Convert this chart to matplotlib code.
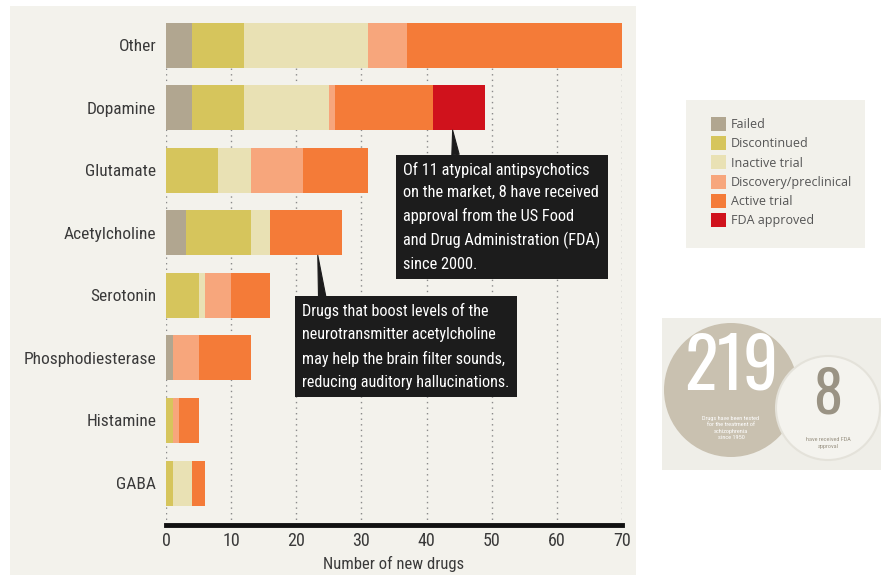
import matplotlib.pyplot as plt
from matplotlib.patches import Rectangle, Circle
import numpy as np

# data
targets = ['Other', 'Dopamine', 'Glutamate', 'Acetylcholine', 'Serotonin',
           'Phosphodiesterase', 'Histamine', 'GABA']
stages = ['Failed', 'Discontinued', 'Inactive trial', 'Discovery/preclinical',
          'Active trial', 'FDA approved']
colors = ['#b1a690', '#d6c55c', '#e9e1b4', '#f7a67c', '#f47b38', '#d0121c']

failed = [4, 4, 0, 3, 0, 1, 0, 0]
discontinued = [8, 8, 8, 10, 5, 0, 1, 1]
inactive = [19, 13, 5, 3, 1, 0, 0, 3]
discovery = [6, 1, 8, 0, 4, 4, 1, 0]
active = [33, 15, 10, 11, 6, 8, 3, 2]
fda = [0, 8, 0, 0, 0, 0, 0, 0]

x_ticks = [0, 10, 20, 30, 40, 50, 60, 70]
total_tested = 219
total_approved = 8

cond = ['Roboto Condensed', 'DejaVu Sans']
big = ['Oswald', 'DejaVu Sans']
plt.rcParams['font.family'] = cond

W, H = 881, 575
fig = plt.figure(figsize=(W / 100, H / 100), dpi=100)
fig.patch.set_facecolor('white')

# background layer in pixel coords
bg = fig.add_axes([0, 0, 1, 1], zorder=-1)
bg.set_xlim(0, W)
bg.set_ylim(H, 0)
bg.axis('off')
bg.add_patch(Rectangle((10, 6), 626, 575, color='#f3f2ec', lw=0))
bg.add_patch(Rectangle((686, 100), 179, 148, color='#f2f1eb', lw=0))
bg.add_patch(Rectangle((662, 318), 219, 152, color='#efeee8', lw=0))
bg.add_patch(Circle((731, 390), 67, color='#c9c1b0', lw=0))
bg.add_patch(Circle((828, 408), 52, fc='#f4f3ee', ec='#e4e2da', lw=1.5))
bg.text(731, 368, str(total_tested), color='white', fontsize=50, family=big,
        weight='light', ha='center', va='center')
bg.text(731, 428, 'Drugs have been tested\nfor the treatment of\nschizophrenia\nsince 1950',
        color='white', fontsize=4.5, ha='center', va='center', linespacing=1.3)
bg.text(828, 396, str(total_approved), color='#9a9384', fontsize=42, family=big,
        weight='light', ha='center', va='center')
bg.text(828, 443, 'have received FDA\napproval', color='#9a9384', fontsize=4.5,
        ha='center', va='center', linespacing=1.3)

# main chart
ax = fig.add_axes([166 / W, 1 - 525 / H, (622 - 166) / W, (525 - 20) / H])
ax.set_facecolor('none')

y = np.arange(len(targets))
series = [failed, discontinued, inactive, discovery, active, fda]
left = np.zeros(len(targets))
handles = []
for vals, name, c in zip(series, stages, colors):
    vals = np.array(vals, dtype=float)
    b = ax.barh(y, vals, left=left, height=0.72, color=c, lw=0, label=name)
    handles.append(b)
    left += vals

ax.set_xlim(0, 70)
ax.set_ylim(7.67, -0.40)
ax.set_yticks(y)
ax.set_yticklabels(targets, fontsize=12.5, color='#3a3a3a')
ax.set_xticks(x_ticks)
ax.set_xticklabels([str(t) for t in x_ticks], fontsize=13, color='#3a3a3a')
ax.tick_params(length=0)
ax.tick_params(axis='y', pad=7)
ax.tick_params(axis='x', pad=5)
for s in ['top', 'right', 'left']:
    ax.spines[s].set_visible(False)
ax.spines['bottom'].set_linewidth(3.5)
ax.spines['bottom'].set_color('#111111')
ax.set_axisbelow(True)
ax.xaxis.grid(True, linestyle=(0, (1, 3)), color='#8a8a8a', lw=1)
ax.set_xlabel('Number of new drugs', fontsize=12, color='#3a3a3a', labelpad=4)

box = dict(boxstyle='square,pad=0.45', fc='#1c1c1c', ec='none')
ax.annotate('Of 11 atypical antipsychotics\non the market, 8 have received\n'
            'approval from the US Food\nand Drug Administration (FDA)\nsince 2000.',
            xy=(44, 1.36), xytext=(36.4, 1.87), textcoords='data',
            ha='left', va='top', color='white', fontsize=11.8, linespacing=1.6,
            bbox=box,
            arrowprops=dict(arrowstyle='wedge,tail_width=0.45', fc='#1c1c1c', ec='#1c1c1c',
                            lw=0.8, relpos=(0.27, 1.0), shrinkA=0, shrinkB=0))
ax.annotate('Drugs that boost levels of the\nneurotransmitter acetylcholine\n'
            'may help the brain filter sounds,\nreducing auditory hallucinations.',
            xy=(23.3, 3.36), xytext=(20.9, 4.13), textcoords='data',
            ha='left', va='top', color='white', fontsize=11.6, linespacing=1.65,
            bbox=box,
            arrowprops=dict(arrowstyle='wedge,tail_width=0.45', fc='#1c1c1c', ec='#1c1c1c',
                            lw=0.8, relpos=(0.1, 1.0), shrinkA=0, shrinkB=0))

leg = fig.legend(handles=handles, labels=stages, loc='upper left',
                 bbox_to_anchor=(706 / W, 1 - 112 / H), frameon=False,
                 handlelength=1.2, handleheight=1.35, handletextpad=0.4,
                 labelspacing=0.4, labelcolor='#555555', borderaxespad=0,
                 prop={'family': ['Open Sans', 'DejaVu Sans'], 'size': 9})

fig.savefig('out.png', dpi=100)
